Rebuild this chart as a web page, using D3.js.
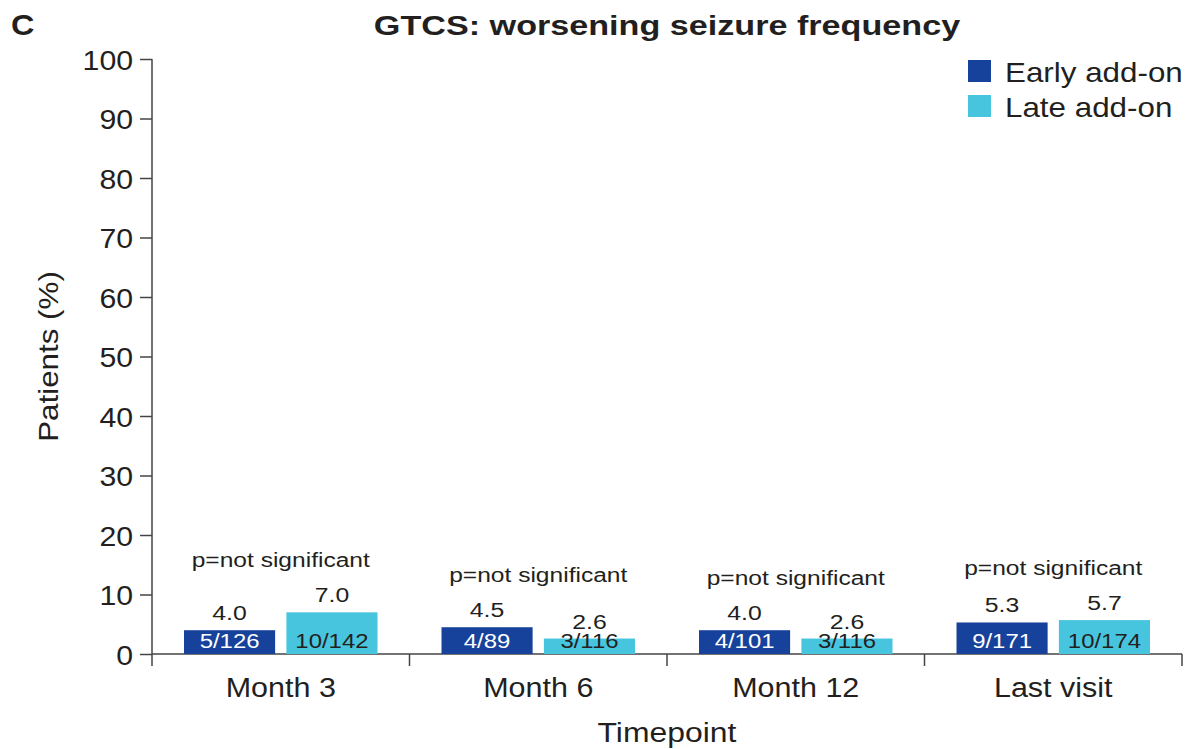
<!DOCTYPE html>
<html>
<head>
<meta charset="utf-8">
<script src="https://cdn.jsdelivr.net/npm/d3@7"></script>
<style>
  body { margin: 0; background: #fff; }
  svg { font-family: "Liberation Sans", Arial, sans-serif; }
</style>
</head>
<body>
<svg id="chart" width="1191" height="749"></svg>
<script>
// data
var timepoints = ["Month 3", "Month 6", "Month 12", "Last visit"];
var groups = ["Early add-on", "Late add-on"];
var earlyPct = [4.0, 4.5, 4.0, 5.3];
var latePct = [7.0, 2.6, 2.6, 5.7];
var earlyN = ["5/126", "4/89", "4/101", "9/171"];
var lateN = ["10/142", "3/116", "3/116", "10/174"];
var pLabels = ["p=not significant", "p=not significant", "p=not significant", "p=not significant"];
var yTicks = [0, 10, 20, 30, 40, 50, 60, 70, 80, 90, 100];

var colors = ["#17429b", "#47c5df"];
var textCol = "#231f20";
var axisCol = "#444";

var svg = d3.select("#chart");
var margin = {left: 152, right: 9, top: 59, bottom: 95};
var W = 1191, H = 749;

var x = d3.scaleBand().domain(timepoints).range([margin.left, W - margin.right]);
var sub = d3.scaleBand().domain(groups).range([32, x.bandwidth() - 32]).paddingInner(0.11);
var y = d3.scaleLinear().domain([0, 100]).range([H - margin.bottom, margin.top]);

// text in the figure is set a little wider than Arial, so stretch it horizontally
function txt(parent, px, py, s, size, sx, anchor, weight) {
  return parent.append("text")
    .attr("transform", "translate(" + px + "," + py + ") scale(" + sx + ",1)")
    .attr("text-anchor", anchor || "start")
    .attr("font-size", size)
    .attr("font-weight", weight || "normal")
    .attr("fill", textCol)
    .text(s);
}

var rows = timepoints.map(function(t, i) {
  return {t: t, p: pLabels[i], vals: [
    {g: groups[0], v: earlyPct[i], n: earlyN[i]},
    {g: groups[1], v: latePct[i], n: lateN[i]}
  ]};
});

// y axis
var ySx = 1.08;
var yAx = svg.append("g")
  .attr("transform", "translate(" + margin.left + ",0)")
  .call(d3.axisLeft(y).tickValues(yTicks).tickSize(12).tickPadding(7).tickSizeOuter(0));
yAx.select(".domain").attr("d", "M0," + y(100) + "V" + (y(0) + 12));
yAx.selectAll("line, path").attr("stroke", axisCol).attr("stroke-width", 1.5);
yAx.selectAll("text")
  .attr("font-size", 28).attr("fill", textCol)
  .attr("font-family", "Liberation Sans, Arial, sans-serif")
  .attr("x", -19 / ySx)
  .attr("dy", "0.36em")
  .attr("transform", "scale(" + ySx + ",1)");

// x axis with ticks at band boundaries
var xAx = svg.append("g")
  .attr("transform", "translate(0," + y(0) + ")");
xAx.append("path")
  .attr("d", "M" + margin.left + ",0H" + (W - margin.right))
  .attr("stroke", axisCol).attr("stroke-width", 1.5).attr("fill", "none");
xAx.selectAll("line.bt")
  .data(timepoints.slice(1).concat(["__end"]))
  .enter().append("line")
  .attr("x1", function(d) { return d === "__end" ? W - margin.right : x(d); })
  .attr("x2", function(d) { return d === "__end" ? W - margin.right : x(d); })
  .attr("y1", 0).attr("y2", 12)
  .attr("stroke", axisCol).attr("stroke-width", 1.5);
timepoints.forEach(function(t) {
  txt(xAx, x(t) + x.bandwidth() / 2, 43, t, 28, 1.09, "middle");
});

// bars
var grp = svg.selectAll("g.tp").data(rows).enter().append("g")
  .attr("transform", function(d) { return "translate(" + x(d.t) + ",0)"; });

grp.selectAll("rect").data(function(d) { return d.vals; }).enter().append("rect")
  .attr("x", function(d) { return sub(d.g); })
  .attr("width", sub.bandwidth())
  .attr("y", function(d) { return y(d.v); })
  .attr("height", function(d) { return y(0) - y(d.v); })
  .attr("fill", function(d, i) { return colors[i]; });

grp.each(function(d) {
  var g = d3.select(this);
  d.vals.forEach(function(v, i) {
    var cx = sub(v.g) + sub.bandwidth() / 2;
    txt(g, cx, y(v.v) - 10, v.v.toFixed(1), 21, 1.18, "middle");
    txt(g, cx, y(0) - 6, v.n, 21, 1.14, "middle")
      .attr("fill", i === 0 ? "#fff" : textCol);
  });
  var top = d3.max(d.vals, function(v) { return v.v; });
  txt(g, x.bandwidth() / 2, y(top) - 45, d.p, 21, 1.17, "middle");
});

// titles
txt(svg, 11, 35, "C", 30, 1.08, "start", "bold");
txt(svg, 667, 35, "GTCS: worsening seizure frequency", 28, 1.22, "middle", "bold");
txt(svg, 667, 742, "Timepoint", 28, 1.14, "middle");
svg.append("text")
  .attr("transform", "translate(58," + ((y(0) + y(100)) / 2) + ") rotate(-90) scale(1.12,1)")
  .attr("text-anchor", "middle").attr("font-size", 28).attr("fill", textCol)
  .text("Patients (%)");

// legend
var leg = svg.selectAll("g.leg").data(groups).enter().append("g")
  .attr("transform", function(d, i) { return "translate(968," + (60 + i * 35) + ")"; });
leg.append("rect").attr("width", 23).attr("height", 22)
  .attr("fill", function(d, i) { return colors[i]; });
leg.each(function(d) {
  txt(d3.select(this), 37, 22, d, 28, 1.12, "start");
});
</script>
</body>
</html>
